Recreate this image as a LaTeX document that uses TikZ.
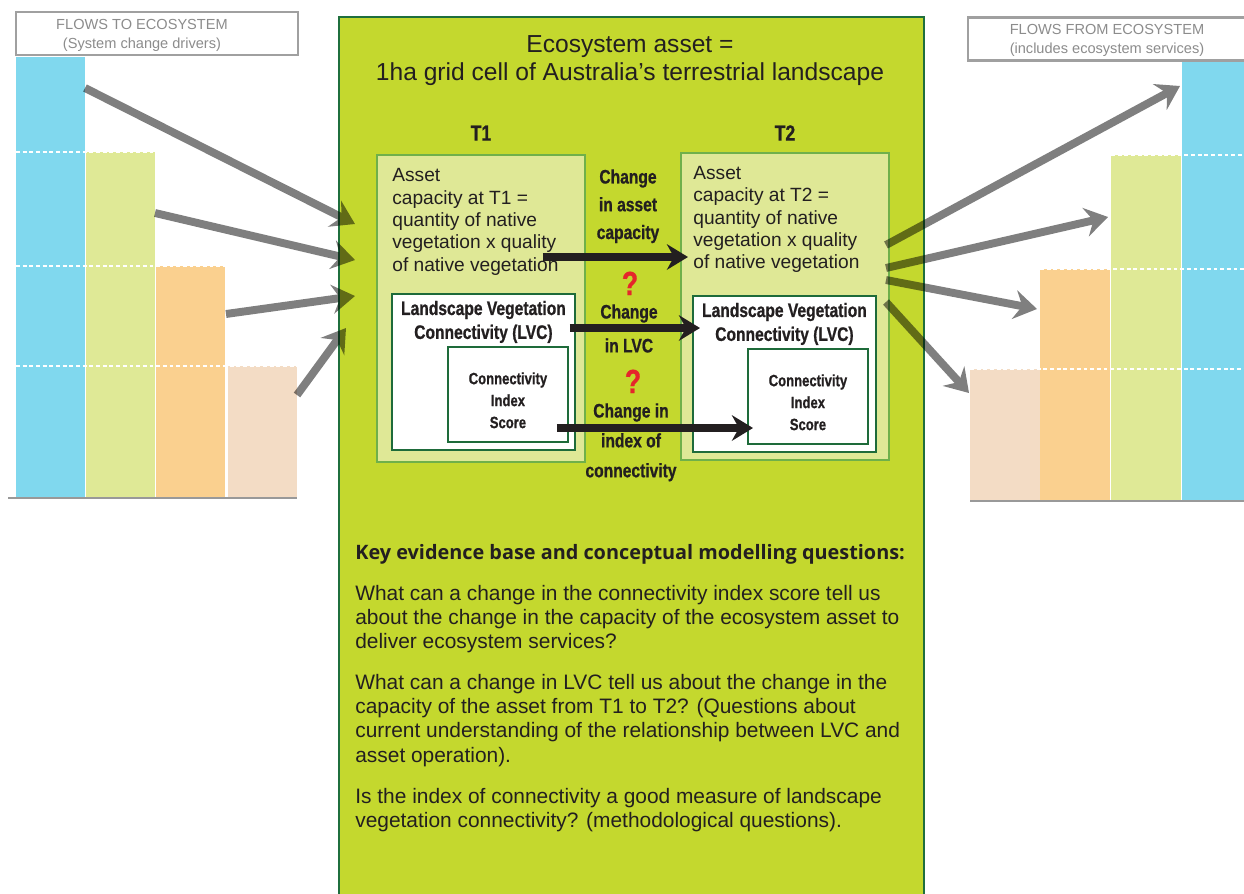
\documentclass[tikz,border=0pt]{standalone}
\usepackage{fontspec}
\setmainfont{Liberation Sans}
\newfontfamily\condfont[FakeStretch=0.8, BoldFeatures={FakeBold=0.8}]{Liberation Sans}
\newfontfamily\keyfont{Open Sans}
\usepackage{tikz}
\usetikzlibrary{positioning,arrows.meta}
\definecolor{assetgreen}{HTML}{C4D82E}
\definecolor{assetedge}{HTML}{1F6F3D}
\definecolor{tfill}{HTML}{DFE896}
\definecolor{tedge}{HTML}{6FB04A}
\definecolor{lvcedge}{HTML}{1E6B3A}
\definecolor{barblue}{HTML}{80D8EE}
\definecolor{bargreen}{HTML}{DFE996}
\definecolor{barorange}{HTML}{FAD08F}
\definecolor{barbeige}{HTML}{F3DCC5}
\definecolor{hdredge}{HTML}{A0A0A0}
\definecolor{hdrtext}{HTML}{8C8C8C}
\definecolor{basegray}{HTML}{999999}
\definecolor{qred}{HTML}{E5262B}
\definecolor{inkblack}{HTML}{231F20}
\newcommand\condbf[2]{\condfont\bfseries\fontsize{#1}{#2}\selectfont}

\begin{document}
\begin{tikzpicture}[
    x=0.02cm, y=-0.02cm,
    every node/.style={text=inkblack},
    hdr/.style={draw=hdredge, line width=1.2pt, fill=white, minimum width=5.64cm, minimum height=0.86cm},
    hdrlabel/.style={text=hdrtext, font=\fontsize{8.3}{10.8}\selectfont, align=center, inner sep=0},
    assetbox/.style={draw=assetedge, fill=assetgreen, line width=1.2pt, minimum width=11.7cm, minimum height=17.9cm},
    tbox/.style={draw=tedge, fill=tfill, line width=1.1pt, minimum width=4.16cm, minimum height=6.14cm},
    lvcbox/.style={draw=lvcedge, fill=white, line width=1.1pt, minimum width=3.66cm, minimum height=3.12cm},
    cisbox/.style={draw=lvcedge, fill=white, line width=1.1pt, minimum width=2.4cm, minimum height=1.9cm},
    tlabel/.style={font=\condbf{12.5}{14}, inner sep=0},
    captxt/.style={font=\fontsize{10.9}{12.8}\selectfont, align=left, inner sep=0},
    lvctxt/.style={font=\condbf{11.1}{13.6}, align=center, inner sep=0},
    cistxt/.style={font=\condbf{9.3}{12.5}, align=center, inner sep=0},
    chgtxt/.style={font=\condbf{11.1}{15.8}, align=center, inner sep=0},
    qmark/.style={text=qred, font=\condbf{19}{19}, inner sep=0},
    qtxt/.style={font=\fontsize{11.9}{13.9}\selectfont, align=left, inner sep=0},
    level/.style={draw=white, line width=0.7pt, dash pattern=on 2.2pt off 1.6pt},
    flow/.style={draw=black, line width=4.5pt, -{Stealth[length=13pt, width=16.5pt, inset=4.5pt]}},
    chg/.style={draw=inkblack, line width=4pt, -{Stealth[length=12pt, width=14.5pt, inset=4pt]}},
]
    \useasboundingbox (0,0) rectangle (1244,893);

    % flows to / from the ecosystem
    \foreach \x/\t/\c in {16/57/barblue, 86/152/bargreen, 156/266/barorange, 228/366/barbeige}
        \fill[\c] (\x,\t) rectangle (\x+69,497);
    \foreach \x/\t/\c in {970/369/barbeige, 1040/269/barorange, 1111/155/bargreen, 1182/61/barblue}
        \fill[\c] (\x,\t) rectangle (\x+70,500);
    \foreach \y/\e in {152/155, 266/226, 366/297}
        \draw[level] (16,\y) -- (\e,\y);
    \foreach \y/\s in {155/1111, 269/1040, 369/970}
        \draw[level] (\s,\y) -- (1244,\y);
    \draw[basegray, line width=1.1pt] (8,498) -- (297,498);
    \draw[basegray, line width=1.1pt] (970,501) -- (1244,501);

    \node[hdr] (inhdr) at (157,33.5) {};
    \node[hdrlabel] (inlbl) at (142,35) {FLOWS TO ECOSYSTEM\\(System change drivers)};
    \node[hdr, anchor=west] (outhdr) at (967,39) {};
    \node[hdrlabel] (outlbl) at (1107,40) {FLOWS FROM ECOSYSTEM\\(includes ecosystem services)};

    % the asset
    \node[assetbox, anchor=north west] (asset) at (338,16) {};
    \node[font=\fontsize{14}{15.9}\selectfont, align=center] (title) at (630,61)
        {Ecosystem asset =\\1ha grid cell of Australia’s terrestrial landscape};

    \node[tbox, anchor=north west] (t1) at (376,154) {};
    \node[tbox, anchor=north west] (t2) at (680,152) {};
    \node[tlabel, above=0.26cm of t1] (t1lbl) {T1};
    \node[tlabel, above=0.22cm of t2] (t2lbl) {T2};
    \node[captxt, below right=0.28cm and 0.32cm of t1.north west] (cap1)
        {Asset\\capacity at T1 =\\quantity of native\\vegetation x quality\\of native vegetation};
    \node[captxt, below right=0.27cm and 0.26cm of t2.north west] (cap2)
        {Asset\\capacity at T2 =\\quantity of native\\vegetation x quality\\of native vegetation};

    \node[lvcbox, anchor=north west] (lvc1) at (391,293) {};
    \node[lvcbox, anchor=north west] (lvc2) at (692,295) {};
    \node[lvctxt, below=0.15cm of lvc1.north] (lvc1lbl) {Landscape Vegetation\\Connectivity (LVC)};
    \node[lvctxt, below=0.15cm of lvc2.north] (lvc2lbl) {Landscape Vegetation\\Connectivity (LVC)};

    \node[cisbox, anchor=north west] (cis1) at (447,346) {};
    \node[cisbox, anchor=north west] (cis2) at (747,348) {};
    \node[cistxt, below=0.52cm of cis1.north] (cis1lbl) {Connectivity\\Index\\Score};
    \node[cistxt, below=0.52cm of cis2.north] (cis2lbl) {Connectivity\\Index\\Score};

    % changes between T1 and T2
    \node[chgtxt, anchor=north] (chg1) at (628,169) {Change\\in asset\\capacity};
    \node[chgtxt, anchor=north, font=\condbf{11.1}{19.3}] (chg2) at (629,304) {Change\\in LVC};
    \node[chgtxt, anchor=north, font=\condbf{11.1}{17}] (chg3) at (631,403) {Change in\\index of\\connectivity};
    \node[qmark, anchor=base] (mark1) at (630,295) {?};
    \node[qmark, anchor=base] (mark2) at (633,393) {?};

    \coordinate (row1) at (0,257);
    \coordinate (row2) at (0,328);
    \coordinate (row3) at (0,428);
    \draw[chg] ([xshift=-0.32cm]cap1.east |- row1) -- ([xshift=0.16cm]t2.west |- row1);
    \draw[chg] ([xshift=-0.12cm]lvc1.east |- row2) -- ([xshift=0.16cm]lvc2.west |- row2);
    \draw[chg] ([xshift=-0.24cm]cis1.east |- row3) -- ([xshift=0.12cm]cis2.west |- row3);

    % gray flows
    \coordinate (in1) at (85,88);    \coordinate (to1) at (355,224);
    \coordinate (in2) at (155,213);  \coordinate (to2) at (355,260);
    \coordinate (in3) at (226,314);  \coordinate (to3) at (355,296);
    \coordinate (in4) at (297,395);  \coordinate (to4) at (346,328);
    \coordinate (out1) at (886,245); \coordinate (from1) at (1180,86);
    \coordinate (out2) at (886,268); \coordinate (from2) at (1108,217);
    \coordinate (out3) at (886,280); \coordinate (from3) at (1037,309);
    \coordinate (out4) at (886,302); \coordinate (from4) at (969,393);
    \begin{scope}[transparency group, opacity=0.5]
        \foreach \i in {1,...,4} {
            \draw[flow] (in\i) -- (to\i);
            \draw[flow] (out\i) -- (from\i);
        }
    \end{scope}

    % questions
    \node[font=\keyfont\bfseries\fontsize{11.3}{13}\selectfont, anchor=north west, inner sep=0] (keyq) at (355,544)
        {Key evidence base and conceptual modelling questions:};
    \node[qtxt, below=0.4cm of keyq.south west, anchor=north west] (ques1)
        {What can a change in the connectivity index score tell us\\about the change in the capacity of the ecosystem asset to\\deliver ecosystem services?};
    \node[qtxt, below=0.4cm of ques1.south west, anchor=north west] (ques2)
        {What can a change in LVC tell us about the change in the\\capacity of the asset from T1 to T2? (Questions about\\current understanding of the relationship between LVC and\\asset operation).};
    \node[qtxt, below=0.42cm of ques2.south west, anchor=north west] (ques3)
        {Is the index of connectivity a good measure of landscape\\vegetation connectivity? (methodological questions).};
\end{tikzpicture}
\end{document}
